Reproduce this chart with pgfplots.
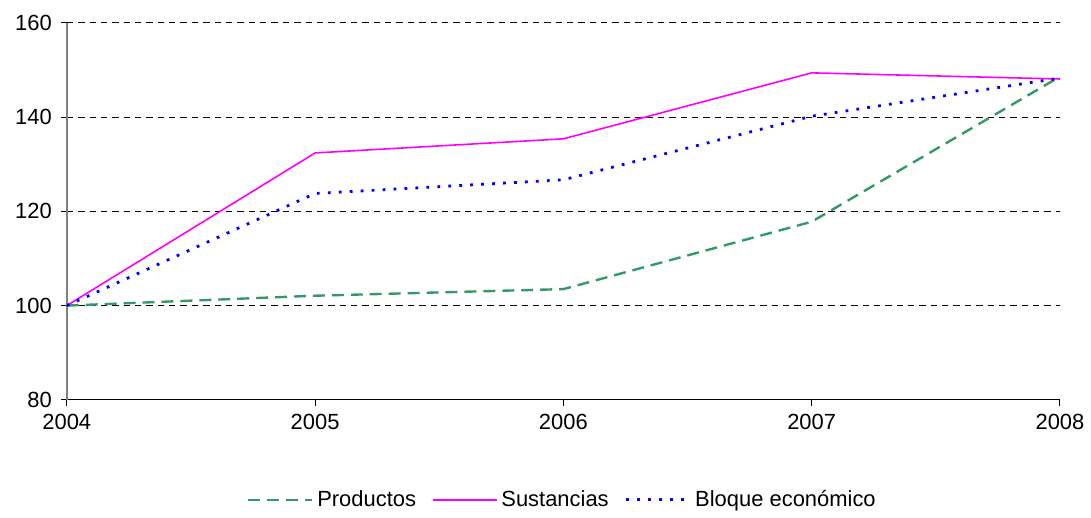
\documentclass[border=0pt]{standalone}
\usepackage{fontspec}
\setmainfont{Liberation Sans}
\usepackage{pgfplots}
\pgfplotsset{compat=1.18}
\definecolor{prodgreen}{RGB}{51,153,102}
\definecolor{sustmag}{RGB}{255,0,255}
\definecolor{bloqblue}{RGB}{0,0,255}
\begin{document}
\begin{tikzpicture}
\begin{axis}[
  scale only axis,
  width=498pt, height=189pt,
  xmin=2004, xmax=2008, ymin=80, ymax=160,
  xtick={2004,2005,2006,2007,2008},
  ytick={80,100,120,140,160},
  axis lines*=left,
  x axis line style={black, line width=0.6pt},
  y axis line style={gray, line width=1pt},
  tick style={black, line width=0.5pt},
  tick align=outside,
  major tick length=3pt,
  ymajorgrids,
  grid style={black, line width=0.5pt, dash pattern=on 3.2pt off 2.5pt},
  /pgf/number format/assume math mode=true,
  /pgf/number format/1000 sep={},
  tick label style={font=\fontsize{11}{13}\selectfont, black},
  xticklabel style={yshift=-0.5pt},
  yticklabel style={xshift=-1pt},
  legend style={at={(0.5,-0.265)}, anchor=center, draw=none, fill=none,
    legend columns=3, font=\fontsize{11}{13}\selectfont,
    /tikz/every even column/.append style={column sep=6pt},
    /tikz/every odd column/.append style={column sep=0pt}},
  legend image code/.code={\draw[#1] (0pt,0pt) -- (32pt,0pt);},
]
\addplot[prodgreen, line width=1.2pt, dash pattern=on 6pt off 3.5pt] coordinates {
  (2004,100) (2005,102.1) (2006,103.5) (2007,117.8) (2008,148.6)};
\addlegendentry{Productos}
\addplot[sustmag, line width=0.8pt] coordinates {
  (2004,100) (2005,132.4) (2006,135.4) (2007,149.4) (2008,148.1)};
\addlegendentry{Sustancias}
\addplot[bloqblue, line width=1.4pt, dash pattern=on 1.4pt off 4.1pt] coordinates {
  (2004,100) (2005,123.8) (2006,126.7) (2007,140.2) (2008,148.3)};
\addlegendentry{Bloque económico}
\end{axis}
\path (current axis.south west) ++(-33.5pt,-54.5pt) coordinate (bbA);
\path (current axis.north east) ++(14pt,11.5pt) coordinate (bbB);
\path (bbA) rectangle (bbB);
\end{tikzpicture}
\end{document}
